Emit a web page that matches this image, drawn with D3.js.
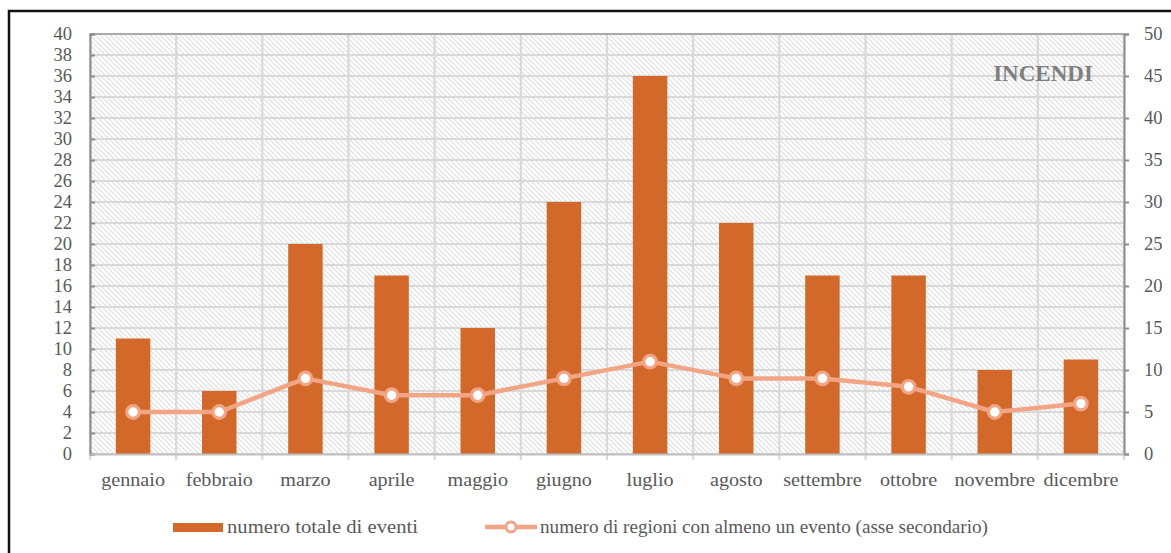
<!DOCTYPE html>
<html>
<head>
<meta charset="utf-8">
<script src="https://cdn.jsdelivr.net/npm/d3@7"></script>
<style>
  html, body { margin: 0; padding: 0; background: #fff; }
  svg { display: block; }
  text { font-family: "Liberation Serif", "Times New Roman", serif; fill: #595959; }
</style>
</head>
<body>
<svg id="chart" width="1171" height="553"></svg>
<script>
// Monthly wildfire events
const months = ["gennaio", "febbraio", "marzo", "aprile", "maggio", "giugno",
                "luglio", "agosto", "settembre", "ottobre", "novembre", "dicembre"];
const totalEvents = [11, 6, 20, 17, 12, 24, 36, 22, 17, 17, 8, 9];
const regionsWithEvent = [5, 5, 9, 7, 7, 9, 11, 9, 9, 8, 5, 6];
const leftTicks = d3.range(0, 41, 2);
const rightTicks = d3.range(0, 51, 5);
const seriesNames = ["numero totale di eventi",
                     "numero di regioni con almeno un evento (asse secondario)"];
const chartTitle = "INCENDI";

const svg = d3.select("#chart");
const W = 1171, H = 553;
const plot = { left: 90, right: 1124, top: 34, bottom: 454 };

const serif = "'Liberation Serif', 'Times New Roman', serif";
const barColor = "#d2692a";
const lineColor = "#f2a585";
const gridColor = "#d9d9d9";
const axisColor = "#8c8c8c";
const labelSize = 18.5;
const stretchX = 1.09;

// widen a text horizontally around its own x anchor
function stretch(sel, s) {
  sel.each(function () {
    const t = d3.select(this);
    const x0 = +t.attr("x") || 0;
    t.attr("x", x0 / s).attr("transform", `scale(${s},1)`);
  });
}

// outer frame
svg.append("rect")
  .attr("x", 9).attr("y", 11)
  .attr("width", W + 10).attr("height", H + 10)
  .attr("fill", "#fff").attr("stroke", "#111").attr("stroke-width", 2.5);

// diagonal hatch fill for the plot area
const defs = svg.append("defs");
const pat = defs.append("pattern")
  .attr("id", "hatch").attr("patternUnits", "userSpaceOnUse")
  .attr("width", 5).attr("height", 5);
pat.append("rect").attr("width", 5).attr("height", 5).attr("fill", "#fff");
pat.append("path").attr("d", "M-1,-1 L6,6 M-1,4 L1,6 M4,-1 L6,1")
  .attr("stroke", "#dedede").attr("stroke-width", 1.1);

const x = d3.scaleBand().domain(months).range([plot.left, plot.right]).paddingInner(0).paddingOuter(0);
const yL = d3.scaleLinear().domain([0, 40]).range([plot.bottom, plot.top]);
const yR = d3.scaleLinear().domain([0, 50]).range([plot.bottom, plot.top]);

svg.append("rect")
  .attr("x", plot.left).attr("y", plot.top)
  .attr("width", plot.right - plot.left).attr("height", plot.bottom - plot.top)
  .attr("fill", "url(#hatch)");

// gridlines
const grid = svg.append("g");
grid.selectAll("line.h").data(leftTicks).join("line")
  .attr("x1", plot.left).attr("x2", plot.right)
  .attr("y1", d => yL(d)).attr("y2", d => yL(d))
  .attr("stroke", gridColor).attr("stroke-width", 2.2);
const bounds = months.map(m => x(m)).concat([plot.right]);
grid.selectAll("line.v").data(bounds).join("line")
  .attr("x1", d => d).attr("x2", d => d)
  .attr("y1", plot.top).attr("y2", plot.bottom + 6)
  .attr("stroke", gridColor).attr("stroke-width", 2.2);

// top edge of the plot
svg.append("line")
  .attr("x1", plot.left).attr("x2", plot.right)
  .attr("y1", plot.top).attr("y2", plot.top)
  .attr("stroke", "#9a9a9a").attr("stroke-width", 1.5);

// bars
const barW = x.bandwidth() * 0.4;
svg.append("g").selectAll("rect").data(months).join("rect")
  .attr("x", (d) => x(d) + (x.bandwidth() - barW) / 2)
  .attr("y", (d, i) => yL(totalEvents[i]))
  .attr("width", barW)
  .attr("height", (d, i) => plot.bottom - yL(totalEvents[i]))
  .attr("fill", barColor);

// axes
const axL = svg.append("g").attr("transform", `translate(${plot.left},0)`)
  .call(d3.axisLeft(yL).tickValues(leftTicks).tickSize(-5).tickPadding(18));
const axR = svg.append("g").attr("transform", `translate(${plot.right},0)`)
  .call(d3.axisRight(yR).tickValues(rightTicks).tickSize(5).tickPadding(15));
const axB = svg.append("g").attr("transform", `translate(0,${plot.bottom})`)
  .call(d3.axisBottom(x).tickSize(0).tickPadding(19));
[axL, axR].forEach(a => {
  a.select(".domain").attr("stroke", axisColor).attr("stroke-width", 2);
  a.selectAll(".tick line").attr("stroke", axisColor).attr("stroke-width", 2);
});
axB.select(".domain").attr("stroke", "#c0c0c0").attr("stroke-width", 2);
[axL, axR, axB].forEach(a => {
  a.attr("font-family", null).attr("font-size", null);
  a.selectAll(".tick text")
    .style("font-family", serif)
    .attr("font-size", labelSize).attr("fill", "#595959");
});
stretch(axB.selectAll(".tick text"), stretchX);

// secondary-axis line with markers
const line = d3.line()
  .x((d, i) => x(months[i]) + x.bandwidth() / 2)
  .y(d => yR(d));
svg.append("path").datum(regionsWithEvent)
  .attr("d", line).attr("fill", "none")
  .attr("stroke", lineColor).attr("stroke-width", 4.5)
  .attr("stroke-linejoin", "round").attr("stroke-linecap", "round");
svg.append("g").selectAll("circle").data(regionsWithEvent).join("circle")
  .attr("cx", (d, i) => x(months[i]) + x.bandwidth() / 2)
  .attr("cy", d => yR(d))
  .attr("r", 6.3)
  .attr("fill", "#fff").attr("stroke", lineColor).attr("stroke-width", 3.2);

// title inside the plot
svg.append("text")
  .attr("x", 1043).attr("y", 81)
  .attr("text-anchor", "middle")
  .attr("font-size", 23).attr("font-weight", "bold")
  .style("font-family", serif)
  .style("fill", "#7f7f7f")
  .text(chartTitle);

// legend
const leg = svg.append("g").style("font-family", serif);
leg.append("rect").attr("x", 173).attr("y", 523).attr("width", 50).attr("height", 9).attr("fill", barColor);
leg.append("text").attr("x", 227).attr("y", 533).attr("font-size", labelSize)
  .style("font-family", serif)
  .attr("textLength", 191).attr("lengthAdjust", "spacingAndGlyphs").text(seriesNames[0]);
leg.append("line").attr("x1", 485).attr("x2", 537).attr("y1", 527).attr("y2", 527)
  .attr("stroke", lineColor).attr("stroke-width", 4.5);
leg.append("circle").attr("cx", 511).attr("cy", 527).attr("r", 5)
  .attr("fill", "#fff").attr("stroke", lineColor).attr("stroke-width", 3);
leg.append("text").attr("x", 540).attr("y", 533).attr("font-size", labelSize)
  .style("font-family", serif)
  .attr("textLength", 448).attr("lengthAdjust", "spacingAndGlyphs").text(seriesNames[1]);
</script>
</body>
</html>
